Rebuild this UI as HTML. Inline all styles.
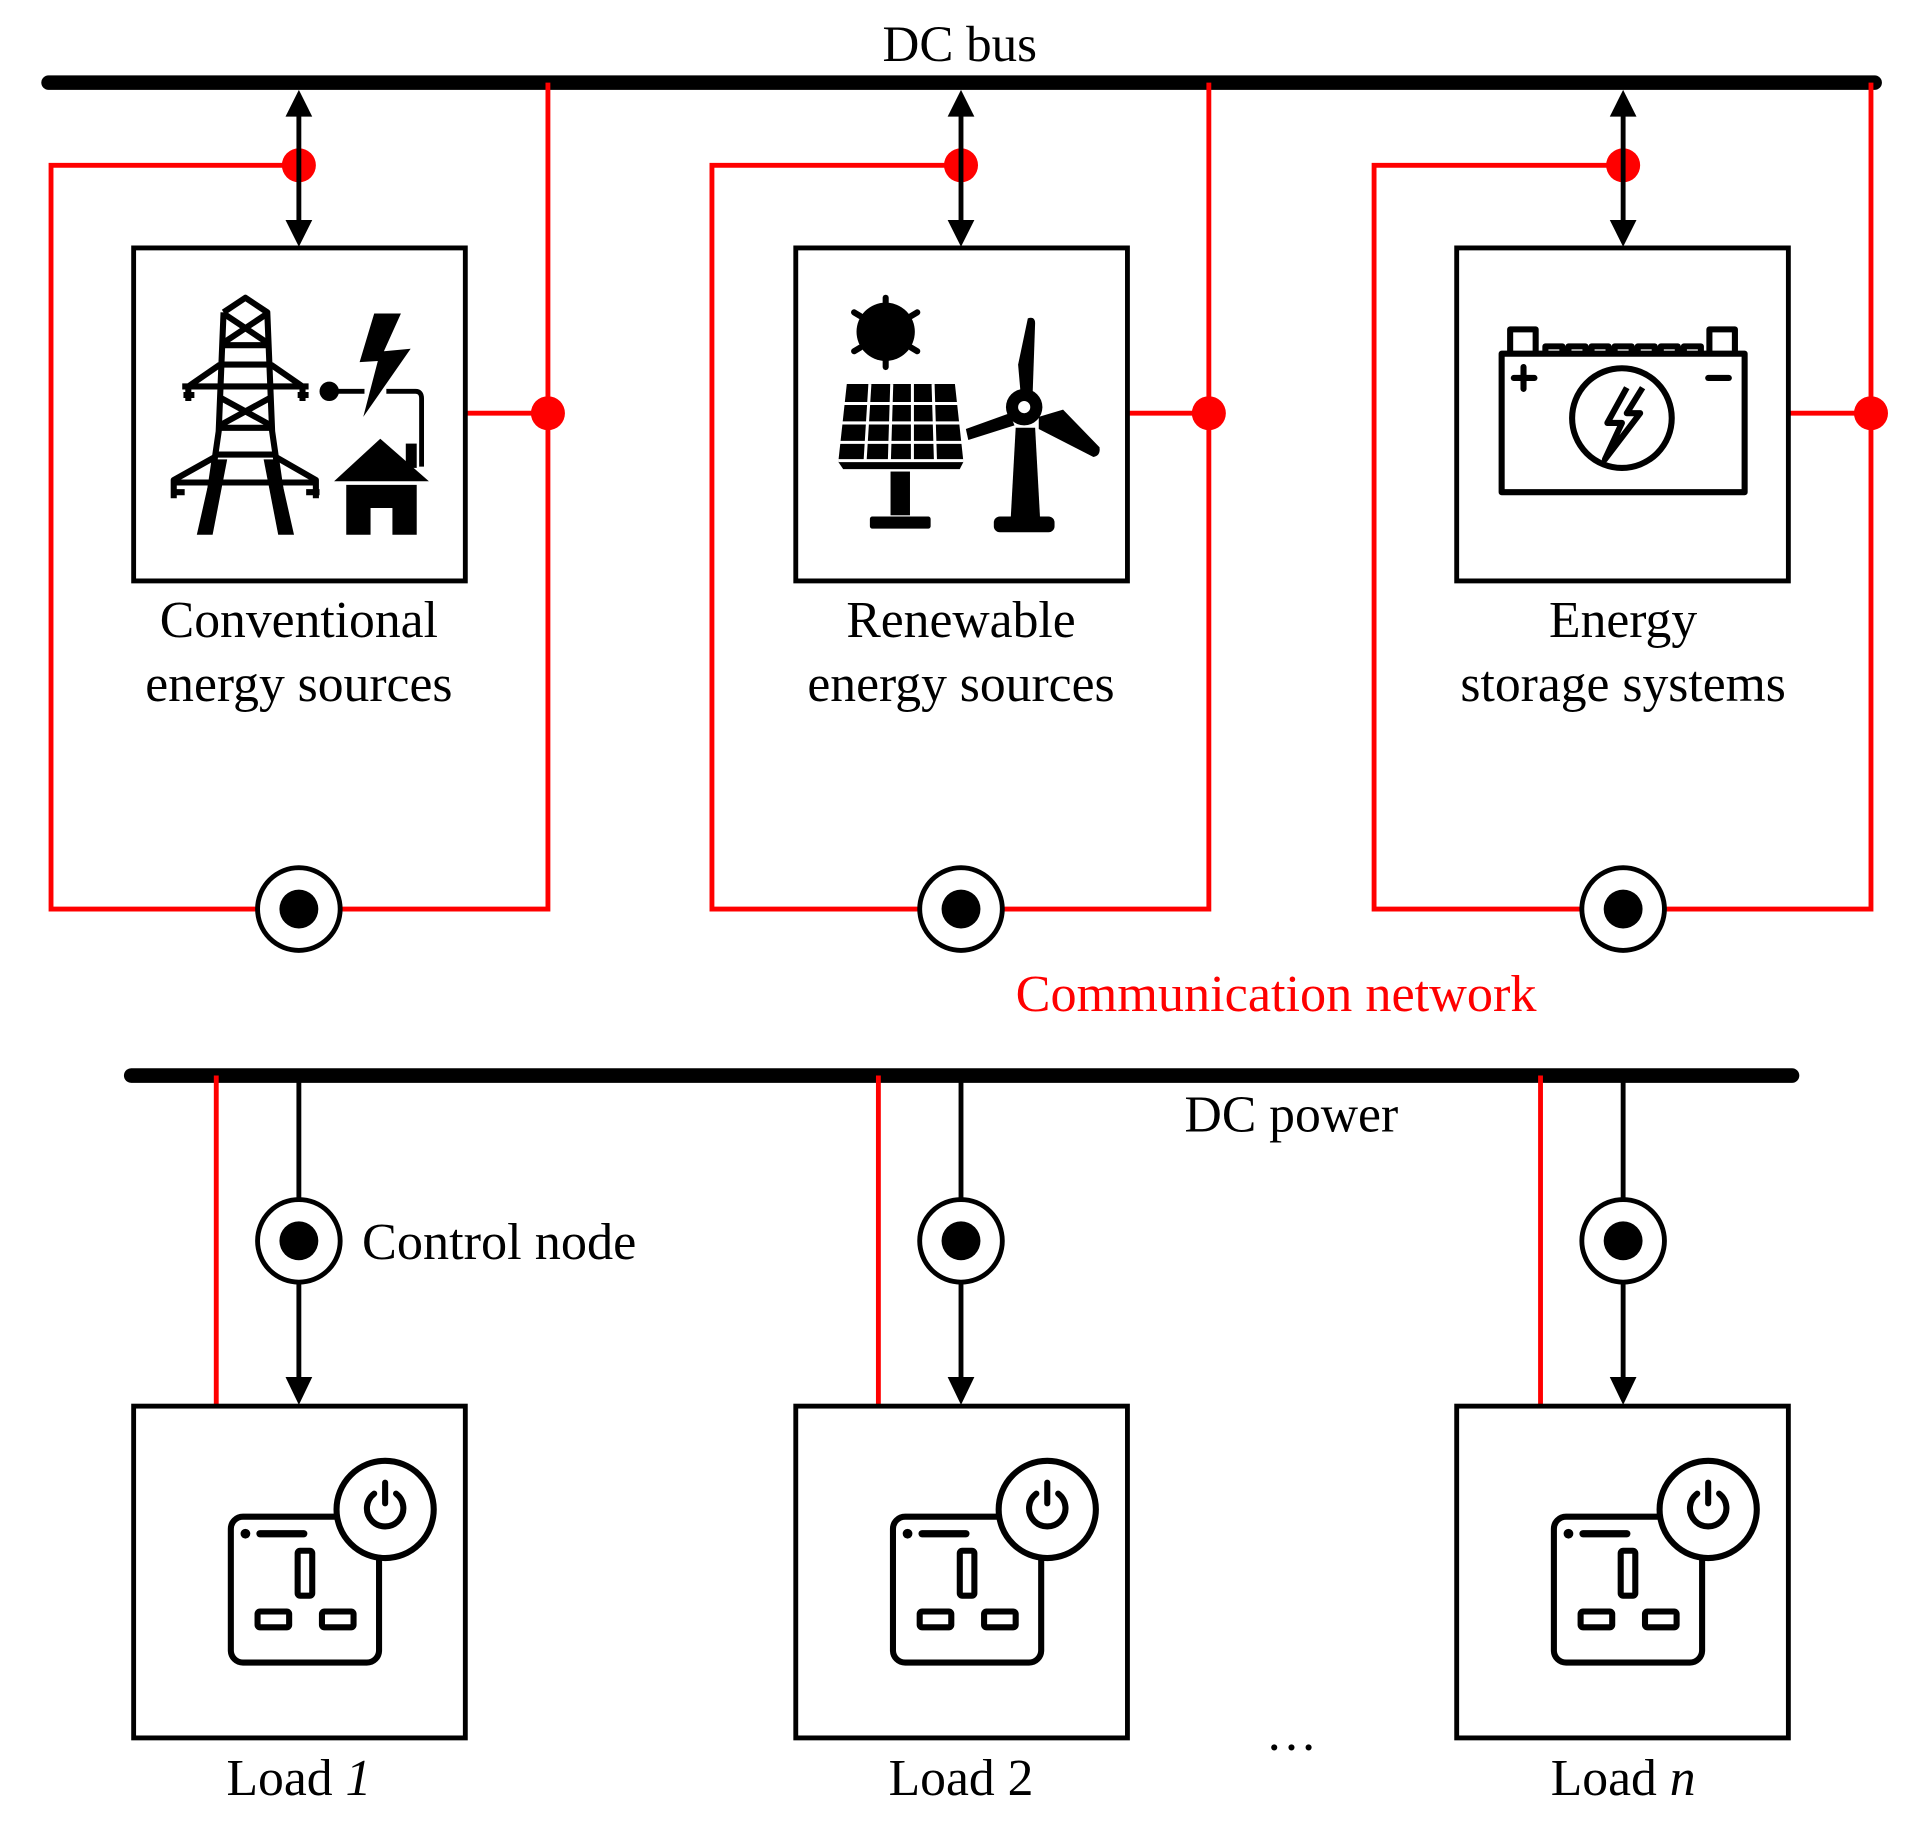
<!DOCTYPE html>
<html><head><meta charset="utf-8"><style>html,body{margin:0;padding:0;background:#fff}svg{display:block}</style></head>
<body>
<svg xmlns="http://www.w3.org/2000/svg" width="1905" height="1840" viewBox="0 0 1568 1514" preserveAspectRatio="none" font-family="'Liberation Serif', serif">
<defs>
<g id="cnode"><circle r="34" fill="#fff" stroke="#000" stroke-width="4"/><circle r="16" fill="#000"/></g>
<g id="socket">
<rect x="80" y="91" width="122" height="120" rx="10" fill="none" stroke="#000" stroke-width="5"/>
<circle cx="207" cy="85" r="40" fill="#fff" stroke="#000" stroke-width="5"/>
<path d="M198,72 A15,15 0 1 0 216,72" fill="none" stroke="#000" stroke-width="5" stroke-linecap="round"/>
<line x1="207" y1="63" x2="207" y2="80" stroke="#000" stroke-width="5" stroke-linecap="round"/>
<circle cx="92" cy="105" r="4" fill="#000"/>
<line x1="104" y1="105" x2="140" y2="105" stroke="#000" stroke-width="6" stroke-linecap="round"/>
<rect x="135" y="119" width="12" height="37" rx="2" fill="none" stroke="#000" stroke-width="5"/>
<rect x="102" y="169" width="26" height="13" rx="2" fill="none" stroke="#000" stroke-width="5"/>
<rect x="155" y="169" width="26" height="13" rx="2" fill="none" stroke="#000" stroke-width="5"/>
</g>
</defs>

<line x1="40" y1="68" x2="1543" y2="68" stroke="#000" stroke-width="12" stroke-linecap="round"/>
<text x="790" y="50" font-size="42" text-anchor="middle">DC bus</text>

<g fill="none" stroke="#f00" stroke-width="4">
<path d="M246,136 H42 V748 H451 V68"/>
<path d="M791,136 H586 V748 H995 V68"/>
<path d="M1336,136 H1131 V748 H1540 V68"/>
<line x1="383" y1="340" x2="451" y2="340"/>
<line x1="928" y1="340" x2="995" y2="340"/>
<line x1="1472" y1="340" x2="1540" y2="340"/>
</g>
<g fill="#f00">
<circle cx="246" cy="136" r="14"/><circle cx="791" cy="136" r="14"/><circle cx="1336" cy="136" r="14"/>
<circle cx="451" cy="340" r="14"/><circle cx="995" cy="340" r="14"/><circle cx="1540" cy="340" r="14"/>
</g>

<g stroke="#000" stroke-width="4">
<line x1="246" y1="90" x2="246" y2="184"/><line x1="791" y1="90" x2="791" y2="184"/><line x1="1336" y1="90" x2="1336" y2="184"/>
</g>
<g fill="#000">
<path d="M246,74 L235,96 L257,96 Z"/><path d="M246,203 L235,181 L257,181 Z"/>
<path d="M791,74 L780,96 L802,96 Z"/><path d="M791,203 L780,181 L802,181 Z"/>
<path d="M1336,74 L1325,96 L1347,96 Z"/><path d="M1336,203 L1325,181 L1347,181 Z"/>
</g>

<g fill="#fff" stroke="#000" stroke-width="4">
<rect x="110" y="204" width="273" height="274"/>
<rect x="655" y="204" width="273" height="274"/>
<rect x="1199" y="204" width="273" height="274"/>
</g>

<g stroke="#000" stroke-width="5" fill="none" stroke-linejoin="round">
<path d="M184,257 L202,245 L220,257 L224,355 L236,438 M184,257 L180,355 L168,438"/>
<path d="M184,258 L220,282 M220,258 L184,282 M183,284 H221 M182,300 H222 M181,327 L223,350 M223,327 L181,350 M180,352 H224 M178,374 H226"/>
<path d="M181,300 L155,318 V330 M223,300 L249,318 V330 M150,318 H254"/>
<path d="M177,376 L143,395 V410 M227,376 L260,395 V410 M143,397 H260"/>
<path d="M151,325 H160 M245,325 H254 M141,405 H152 M252,405 H263"/>
</g>
<g fill="#000">
<path d="M162,440 L175,440 L187,378 L176,378 Z"/><path d="M242,440 L229,440 L217,378 L228,378 Z"/>
<path d="M308,258 L330,258 L316,289 L338,287 L299,343 L311,297 L296,298 Z"/>
<circle cx="271" cy="322" r="8"/>
<path d="M313,361 L275,396 L353,396 Z"/><rect x="334" y="365" width="9" height="20"/>
<path d="M285,399 H343 V440 H323 V418 H305 V440 H285 Z"/>
</g>
<g stroke="#000" stroke-width="4" fill="none">
<line x1="271" y1="322" x2="300" y2="322"/><path d="M318,322 H342 Q347,322 347,328 V384"/>
</g>

<g fill="#000">
<circle cx="729" cy="273" r="24"/>
<g stroke="#000" stroke-width="5" stroke-linecap="round">
<line x1="729" y1="245" x2="729" y2="251"/><line x1="729" y1="296" x2="729" y2="302"/>
<line x1="703" y1="257" x2="708" y2="260"/><line x1="750" y1="286" x2="755" y2="289"/>
<line x1="703" y1="289" x2="708" y2="286"/><line x1="750" y1="260" x2="755" y2="257"/>
</g>
<path d="M697,316 H786 L793,380 L790,386 H694 L690,380 Z"/>
<rect x="733" y="388" width="16" height="36"/><rect x="716" y="425" width="50" height="10" rx="2"/>
<path d="M836,352 H852 L856,425 H832 Z"/>
<rect x="818" y="425" width="50" height="13" rx="5"/>
<path d="M846,262 Q852,260 852,266 L850,323 L840,323 L838,300 Z"/>
<path d="M855,343 L875,337 L905,368 Q906,375 900,376 L855,353 Z"/>
<path d="M831,340 L795,353 L797,362 L835,350 Z"/>
<circle cx="843" cy="335" r="15"/>
</g>
<circle cx="843" cy="335" r="5" fill="#fff"/>
<g stroke="#fff" stroke-width="2.5">
<line x1="693" y1="332" x2="790" y2="332"/><line x1="692" y1="348" x2="791" y2="348"/><line x1="691" y1="364" x2="792" y2="364"/><line x1="690" y1="379" x2="793" y2="379"/>
<line x1="716" y1="316" x2="712" y2="380"/><line x1="734" y1="316" x2="732" y2="380"/><line x1="751" y1="316" x2="751" y2="380"/><line x1="768" y1="316" x2="770" y2="380"/>
</g>

<g fill="none" stroke="#000" stroke-width="5" stroke-linejoin="round">
<rect x="1236" y="291" width="200" height="114"/>
<path d="M1243,291 V271 H1264 V291 M1407,291 V271 H1428 V291"/>
<path d="M1272,291 V285 H1286 V291 M1291,291 V285 H1305 V291 M1310,291 V285 H1324 V291 M1329,291 V285 H1343 V291 M1348,291 V285 H1362 V291 M1367,291 V285 H1381 V291 M1386,291 V285 H1400 V291"/>
<circle cx="1335" cy="344" r="41"/>
<path d="M1339,319 L1323,348 H1335 L1321,378 L1350,340 H1339 L1352,319"/>
</g>
<g stroke="#000" stroke-width="5" stroke-linecap="round">
<line x1="1246" y1="311" x2="1263" y2="311"/><line x1="1254" y1="302" x2="1254" y2="320"/>
<line x1="1406" y1="311" x2="1423" y2="311"/>
</g>

<g font-size="42.5" text-anchor="middle">
<text x="246" y="524">Conventional</text><text x="246" y="577">energy sources</text>
<text x="791" y="524">Renewable</text><text x="791" y="577">energy sources</text>
<text x="1336" y="524">Energy</text><text x="1336" y="577">storage systems</text>
</g>

<use href="#cnode" x="246" y="748"/><use href="#cnode" x="791" y="748"/><use href="#cnode" x="1336" y="748"/>

<text x="836" y="832" font-size="43" fill="#f00">Communication network</text>

<line x1="108" y1="885" x2="1475" y2="885" stroke="#000" stroke-width="12" stroke-linecap="round"/>
<text x="975" y="931" font-size="42.5">DC power</text>

<g stroke="#f00" stroke-width="4">
<line x1="178" y1="885" x2="178" y2="1157"/><line x1="723" y1="885" x2="723" y2="1157"/><line x1="1268" y1="885" x2="1268" y2="1157"/>
</g>
<g stroke="#000" stroke-width="4">
<line x1="246" y1="885" x2="246" y2="1140"/><line x1="791" y1="885" x2="791" y2="1140"/><line x1="1336" y1="885" x2="1336" y2="1140"/>
</g>
<g fill="#000">
<path d="M246,1156 L235,1133 L257,1133 Z"/><path d="M791,1156 L780,1133 L802,1133 Z"/><path d="M1336,1156 L1325,1133 L1347,1133 Z"/>
</g>
<use href="#cnode" x="246" y="1021"/><use href="#cnode" x="791" y="1021"/><use href="#cnode" x="1336" y="1021"/>
<text x="298" y="1036" font-size="43">Control node</text>

<g fill="#fff" stroke="#000" stroke-width="4">
<rect x="110" y="1157" width="273" height="273"/>
<rect x="655" y="1157" width="273" height="273"/>
<rect x="1199" y="1157" width="273" height="273"/>
</g>
<use href="#socket" x="110" y="1157"/><use href="#socket" x="655" y="1157"/><use href="#socket" x="1199" y="1157"/>

<g font-size="42.5" text-anchor="middle">
<text x="246" y="1477">Load <tspan font-style="italic">1</tspan></text>
<text x="791" y="1477">Load 2</text>
<text x="1336" y="1477">Load <tspan font-style="italic">n</tspan></text>
<text x="1063" y="1452">···</text>
</g>
</svg>
</body></html>
